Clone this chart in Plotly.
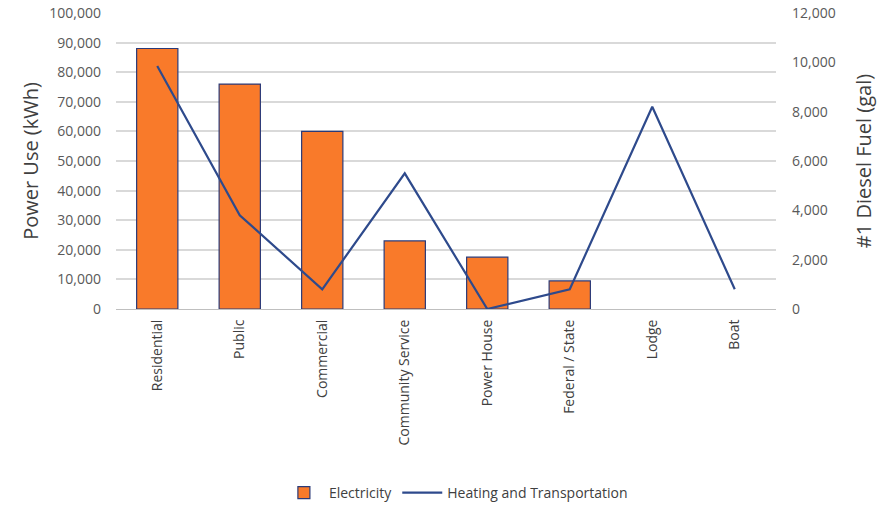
import plotly.graph_objects as go

categories = ["Residential", "Public", "Commercial", "Community Service",
              "Power House", "Federal / State", "Lodge", "Boat"]
electricity_kwh = [88000, 76000, 60000, 23000, 17500, 9500, 0, 0]
diesel_gal = [9850, 3800, 800, 5500, 0, 800, 8200, 800]

left_ticks = list(range(0, 100001, 10000))
right_ticks = list(range(0, 12001, 2000))

fig = go.Figure()
fig.add_trace(go.Bar(
    x=categories, y=electricity_kwh, name="Electricity",
    marker=dict(color="#F97A2A",
                line=dict(color="#2B3A78",
                          width=[1.2 if v > 0 else 0 for v in electricity_kwh])),
    width=0.5, yaxis="y",
))
fig.add_trace(go.Scatter(
    x=categories, y=diesel_gal, name="Heating and Transportation",
    mode="lines", line=dict(color="#2E4A8C", width=2.2), yaxis="y2",
))

font_family = "Open Sans, Liberation Sans, sans-serif"
fig.update_layout(
    width=881, height=505,
    margin=dict(l=116, r=105, t=13, b=196, autoexpand=False),
    paper_bgcolor="white", plot_bgcolor="white",
    font=dict(family=font_family, color="#595959", size=14),
    showlegend=True,
    legend=dict(orientation="h", x=0.515, xanchor="center", y=-0.622, yanchor="middle",
                font=dict(size=14, color="#404040"), itemwidth=40),
    xaxis=dict(
        type="category", tickangle=-90, showgrid=False, automargin=False,
        showline=True, linecolor="#BFBFBF", linewidth=1,
        ticks="", ticklabelstandoff=4, tickfont=dict(size=14, color="#404040"),
    ),
    yaxis=dict(
        range=[0, 100000], tickvals=left_ticks, automargin=False,
        ticktext=[f"{v:,}" for v in left_ticks],
        showgrid=True, gridcolor="#D9D9D9", gridwidth=1.5,
        zeroline=False, ticks="", ticklabelstandoff=14,
        tickfont=dict(size=14, color="#595959"),
        title=dict(text="Power Use (kWh)", font=dict(size=20, color="#404040"), standoff=5),
    ),
    yaxis2=dict(
        range=[0, 12000], tickvals=right_ticks, automargin=False,
        ticktext=[f"{v:,}" for v in right_ticks],
        overlaying="y", side="right", showgrid=False, zeroline=False,
        ticks="", ticklabelstandoff=15,
        tickfont=dict(size=14, color="#595959"),
        title=dict(text="#1 Diesel Fuel (gal)", font=dict(size=20, color="#404040"), standoff=22),
    ),
)

fig.write_html("out.html")
